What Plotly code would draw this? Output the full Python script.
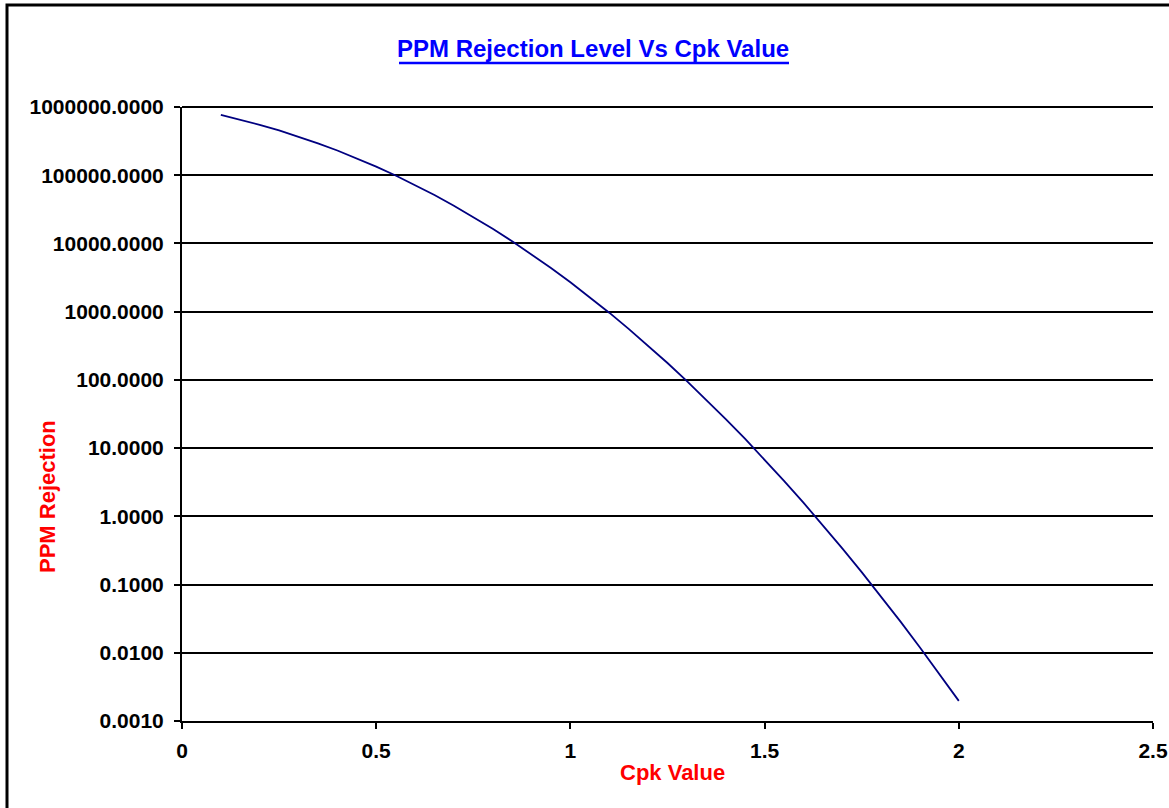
import plotly.graph_objects as go

# Data
cpk = [0.10, 0.15, 0.20, 0.25, 0.30, 0.35, 0.40, 0.45, 0.50, 0.55, 0.60, 0.65, 0.70,
       0.75, 0.80, 0.85, 0.90, 0.95, 1.00, 1.05, 1.10, 1.15, 1.20, 1.25, 1.30, 1.35,
       1.40, 1.45, 1.50, 1.55, 1.60, 1.65, 1.70, 1.75, 1.80, 1.85, 1.90, 1.95, 2.00]
ppm = [764177, 652720, 548506, 453255, 368120, 293718, 230139, 177016, 133614, 98942,
       71861, 51176, 35729, 24449, 16395, 10772, 6934, 4372, 2700, 1632.7, 966.8,
       560.6, 318.2, 176.8, 96.19, 51.10, 26.69, 13.61, 6.795, 3.319, 1.587, 0.7421,
       0.3397, 0.1521, 0.06664, 0.02857, 0.01198, 0.004916, 0.001973]

y_tickvals = [0.001, 0.01, 0.1, 1, 10, 100, 1000, 10000, 100000, 1000000]
y_ticktext = ["0.0010", "0.0100", "0.1000", "1.0000", "10.0000", "100.0000",
              "1000.0000", "10000.0000", "100000.0000", "1000000.0000"]
x_tickvals = [0, 0.5, 1, 1.5, 2, 2.5]
x_ticktext = ["0", "0.5", "1", "1.5", "2", "2.5"]

title_text = "PPM Rejection Level Vs Cpk Value"
x_title = "Cpk Value"
y_title = "PPM Rejection"

FONT = "Liberation Sans, Arial, sans-serif"

fig = go.Figure()
fig.add_trace(go.Scatter(x=cpk, y=ppm, mode="lines",
                         line=dict(color="#000080", width=1.8),
                         showlegend=False, hoverinfo="skip"))

W, H = 1169, 808
L, R, T, B = 182, 16, 107, 87
pw, ph = W - L - R, H - T - B

def px(xp):
    return (xp - L) / pw

def py(yp):
    return (H - B - yp) / ph

fig.update_layout(
    width=W, height=H,
    margin=dict(l=L, r=R, t=T, b=B, autoexpand=False),
    paper_bgcolor="white", plot_bgcolor="white",
    font=dict(family=FONT, color="black"),
    xaxis=dict(range=[0, 2.5], tickvals=x_tickvals, ticktext=x_ticktext,
               showgrid=False, zeroline=False, showline=True, linecolor="black",
               linewidth=2, ticks="outside", ticklen=6, tickwidth=2, tickcolor="black",
               tickfont=dict(family=FONT, size=21, color="black", weight="bold"),
               ticklabelstandoff=4),
    yaxis=dict(type="log", range=[-3, 6], tickvals=y_tickvals, ticktext=y_ticktext,
               showgrid=True, gridcolor="black", gridwidth=2, zeroline=False,
               showline=True, linecolor="black", linewidth=2, ticks="outside",
               ticklen=6, tickwidth=2, tickcolor="black",
               tickfont=dict(family=FONT, size=21, color="black", weight="bold"),
               ticklabelstandoff=6),
    annotations=[
        dict(text="<b>" + title_text + "</b>", xref="paper", yref="paper",
             x=px(593), y=py(49), xanchor="center", yanchor="middle", showarrow=False,
             font=dict(family=FONT, size=24, color="#0000FF")),
        dict(text="<b>" + x_title + "</b>", xref="paper", yref="paper",
             x=px(672), y=py(772), xanchor="center", yanchor="middle", showarrow=False,
             font=dict(family=FONT, size=22, color="#FF0000")),
        dict(text="<b>" + y_title + "</b>", xref="paper", yref="paper",
             x=px(47), y=py(497), xanchor="center", yanchor="middle", showarrow=False,
             textangle=-90, font=dict(family=FONT, size=22, color="#FF0000")),
    ],
    shapes=[
        dict(type="rect", xref="paper", yref="paper",
             x0=px(7), x1=px(1175), y0=py(815), y1=py(5),
             line=dict(color="black", width=3), fillcolor="rgba(0,0,0,0)", layer="above"),
        dict(type="line", xref="paper", yref="paper",
             x0=px(399), x1=px(789), y0=py(63), y1=py(63),
             line=dict(color="#0000FF", width=2.5)),
        # top gridline (at the upper end of the y range)
        dict(type="line", xref="paper", yref="paper", x0=0, x1=1, y0=1, y1=1,
             line=dict(color="black", width=2), layer="below"),
    ],
)

fig.write_html("out.html", config={"displayModeBar": False},
               post_script="document.body.style.margin='0';document.body.style.overflow='hidden';")
